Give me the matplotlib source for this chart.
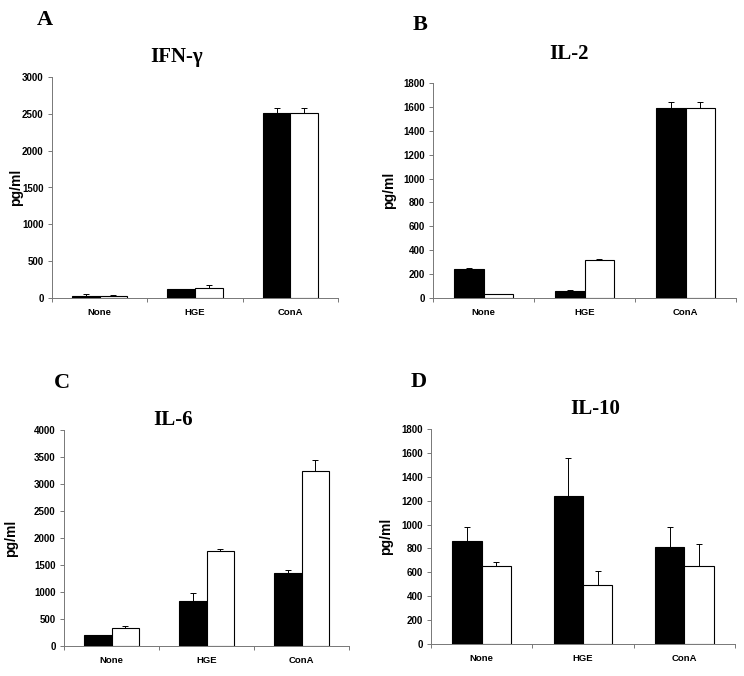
import numpy as np
import matplotlib
matplotlib.use("Agg")
import matplotlib.pyplot as plt

# categories and values
categories = ["None", "HGE", "ConA"]

ifn_black = [30, 117, 2510]
ifn_black_err = [30, 5, 65]
ifn_white = [25, 140, 2510]
ifn_white_err = [15, 35, 65]

il2_black = [245, 58, 1590]
il2_black_err = [6, 7, 52]
il2_white = [30, 320, 1590]
il2_white_err = [3, 10, 52]

il6_black = [205, 830, 1345]
il6_black_err = [5, 150, 55]
il6_white = [325, 1760, 3245]
il6_white_err = [40, 35, 200]

il10_black = [865, 1242, 815]
il10_black_err = [117, 317, 167]
il10_white = [652, 495, 652]
il10_white_err = [32, 114, 186]

panels = [
    ("A", "IFN-\u03b3", ifn_black, ifn_black_err, ifn_white, ifn_white_err, 3000, 500),
    ("B", "IL-2", il2_black, il2_black_err, il2_white, il2_white_err, 1800, 200),
    ("C", "IL-6", il6_black, il6_black_err, il6_white, il6_white_err, 4000, 500),
    ("D", "IL-10", il10_black, il10_black_err, il10_white, il10_white_err, 1800, 200),
]

# axes rectangles in figure pixels: left, top, right, bottom
W, H = 744, 676
boxes = [(52, 77, 338, 298), (433, 83, 736, 298), (64, 430, 349, 646), (431, 429, 735, 644)]
title_pos = [(177, 57), (569, 54), (173, 420), (595, 409)]
letter_pos = [(45, 20), (420, 25), (62, 383), (419, 382)]
ylabel_x = [17, 390, 12, 387]

fig = plt.figure(figsize=(W / 100, H / 100), dpi=100)

bw = 0.29
x = np.arange(3) + 0.5
for i, (let, title, yb, eb, yw, ew, ymax, step) in enumerate(panels):
    l, t, r, b = boxes[i]
    ax = fig.add_axes([l / W, 1 - b / H, (r - l) / W, (b - t) / H])
    ax.bar(x - bw / 2, yb, bw, color="black", edgecolor="black", linewidth=0.8,
           yerr=[np.zeros(3), eb], error_kw=dict(ecolor="black", elinewidth=0.7, capsize=2, capthick=0.7))
    ax.bar(x + bw / 2, yw, bw, color="white", edgecolor="black", linewidth=0.8,
           yerr=[np.zeros(3), ew], error_kw=dict(ecolor="black", elinewidth=0.7, capsize=2, capthick=0.7))
    ax.set_xlim(0, 3)
    ax.set_ylim(0, ymax)
    ax.set_yticks(np.arange(0, ymax + 1, step))
    ax.set_yticklabels([str(v) for v in range(0, ymax + 1, step)],
                       fontsize=7, fontweight="bold", family="Liberation Sans")
    ax.set_xticks(x)
    ax.set_xticklabels(categories, fontsize=6.8, fontweight="bold", family="Liberation Sans")
    ax.tick_params(axis="x", length=0, pad=7)
    ax.set_xticks([0, 1, 2, 3], minor=True)
    ax.tick_params(axis="x", which="minor", length=3, color="#777777", width=0.7)
    ax.tick_params(axis="y", length=3, color="#777777", width=0.7, pad=3)
    for s in ["top", "right"]:
        ax.spines[s].set_visible(False)
    for s in ["left", "bottom"]:
        ax.spines[s].set_color("#777777")
        ax.spines[s].set_linewidth(0.7)
    ax.set_ylabel("pg/ml", fontsize=10, fontweight="bold", family="Liberation Sans")
    ax.yaxis.set_label_coords((ylabel_x[i] + 6 - l) / (r - l), 0.5)

    tx, ty = title_pos[i]
    fig.text(tx / W, 1 - ty / H, title, ha="center", va="center", fontsize=15,
             fontweight="bold", family="Liberation Serif")
    lx, ly = letter_pos[i]
    fig.text(lx / W, 1 - ly / H, let, ha="center", va="center", fontsize=16,
             fontweight="bold", family="Liberation Serif")

fig.savefig("out.png", dpi=100, facecolor="white")
